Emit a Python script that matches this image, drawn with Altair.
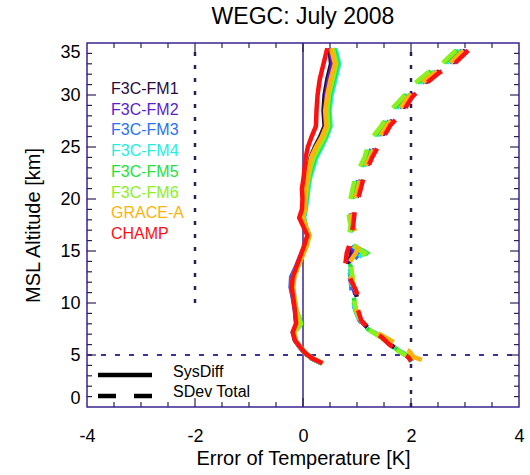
import altair as alt
import pandas as pd

FONT = "Liberation Sans"
FRAME = "#3b2390"
DOT = "#2e1e50"
TICK = "#2f1f55"

# Satellite names and their plot colours
names = ["F3C-FM1", "F3C-FM2", "F3C-FM3", "F3C-FM4", "F3C-FM5", "F3C-FM6", "GRACE-A", "CHAMP"]
colors = ["#2b0a3d", "#5a1ecf", "#2a72f2", "#22eedd", "#1de23a", "#8cf01e", "#ffb20a", "#ff1010"]

# Altitude levels [km] of the systematic-difference profiles (top to bottom)
alt_sys = [34.5, 33.0, 31.5, 30.0, 28.5, 27.0, 26.0, 25.0, 24.0, 23.0, 22.0, 21.0, 20.0, 19.0, 18.2,
           17.3, 16.5, 15.5, 14.5, 13.5, 12.5, 11.5, 10.5, 9.3, 8.0, 7.2, 6.4, 5.8, 5.2, 4.7, 4.2]

# Systematic difference [K]
fm1_sys = [0.49, 0.52, 0.45, 0.40, 0.38, 0.40, 0.32, 0.22, 0.14, 0.10, 0.07, 0.04, 0.03, 0.02, -0.02,
           0.04, 0.10, 0.05, -0.03, -0.11, -0.18, -0.20, -0.17, -0.14, -0.12, -0.18, -0.14, -0.06, 0.04, 0.16, 0.35]
fm2_sys = [0.50, 0.55, 0.48, 0.43, 0.44, 0.45, 0.37, 0.27, 0.18, 0.13, 0.09, 0.06, 0.05, 0.03, 0.00,
           0.05, 0.10, 0.04, -0.04, -0.12, -0.20, -0.22, -0.18, -0.14, -0.12, -0.18, -0.14, -0.06, 0.04, 0.16, 0.35]
fm3_sys = [0.55, 0.62, 0.55, 0.49, 0.46, 0.48, 0.41, 0.32, 0.22, 0.16, 0.11, 0.08, 0.06, 0.04, 0.01,
           0.05, 0.10, 0.04, -0.05, -0.13, -0.22, -0.23, -0.19, -0.15, -0.12, -0.19, -0.15, -0.07, 0.03, 0.15, 0.34]
fm4_sys = [0.60, 0.67, 0.60, 0.53, 0.49, 0.51, 0.44, 0.35, 0.25, 0.19, 0.13, 0.10, 0.08, 0.05, 0.02,
           0.06, 0.12, 0.06, -0.03, -0.11, -0.18, -0.20, -0.17, -0.13, -0.08, -0.17, -0.14, -0.06, 0.04, 0.16, 0.35]
fm5_sys = [0.57, 0.64, 0.57, 0.50, 0.47, 0.49, 0.42, 0.32, 0.22, 0.16, 0.11, 0.08, 0.06, 0.04, 0.01,
           0.05, 0.11, 0.06, -0.02, -0.10, -0.17, -0.19, -0.16, -0.12, -0.03, -0.16, -0.14, -0.06, 0.04, 0.16, 0.35]
fm6_sys = [0.55, 0.62, 0.55, 0.48, 0.45, 0.47, 0.40, 0.30, 0.20, 0.14, 0.10, 0.07, 0.05, 0.03, 0.00,
           0.04, 0.10, 0.05, -0.03, -0.10, -0.17, -0.19, -0.16, -0.12, -0.04, -0.16, -0.14, -0.06, 0.04, 0.16, 0.35]
grace_sys = [0.52, 0.59, 0.51, 0.45, 0.41, 0.43, 0.35, 0.24, 0.15, 0.11, 0.08, 0.05, 0.04, 0.03, 0.00,
             0.06, 0.12, 0.07, -0.01, -0.09, -0.16, -0.18, -0.16, -0.13, -0.11, -0.17, -0.13, -0.05, 0.05, 0.17, 0.37]
champ_sys = [0.45, 0.38, 0.31, 0.27, 0.25, 0.24, 0.16, 0.09, 0.05, 0.03, 0.01, -0.02, -0.01, -0.02, -0.07,
             0.01, 0.08, 0.02, -0.05, -0.12, -0.19, -0.21, -0.18, -0.15, -0.13, -0.19, -0.15, -0.06, 0.04, 0.16, 0.36]

# Altitude levels [km] of the total standard-deviation profiles (top to bottom)
alt_sd = [34.3, 33.0, 32.1, 31.0, 29.8, 28.3, 27.1, 25.5, 24.0, 22.2, 20.8, 18.9, 17.5, 15.8, 14.8,
          13.6, 12.4, 11.2, 10.2, 9.3, 8.3, 7.5, 6.7, 6.0, 5.4, 4.8, 4.4]

# Total standard deviation [K]
fm1_sd = [3.00, 2.75, 2.46, 2.20, 1.98, 1.78, 1.58, 1.38, 1.25, 1.08, 1.02, 0.92, 0.92, 0.88, 0.90,
          0.83, 0.87, 0.96, 1.02, 1.00, 1.07, 1.22, 1.47, 1.62, 1.77, 1.97, 2.01]
fm2_sd = [3.02, 2.77, 2.48, 2.22, 2.00, 1.80, 1.60, 1.40, 1.26, 1.10, 1.03, 0.93, 0.92, 0.86, 0.95,
          0.82, 0.87, 0.95, 1.00, 1.00, 1.07, 1.22, 1.46, 1.61, 1.76, 1.96, 2.01]
fm3_sd = [2.95, 2.70, 2.42, 2.16, 1.95, 1.70, 1.55, 1.32, 1.21, 1.04, 0.97, 0.88, 0.90, 0.85, 1.05,
          0.85, 0.88, 0.90, 0.92, 0.97, 1.05, 1.21, 1.46, 1.62, 1.77, 1.97, 2.02]
fm4_sd = [2.90, 2.65, 2.38, 2.12, 1.92, 1.66, 1.52, 1.29, 1.19, 1.02, 0.95, 0.87, 0.90, 0.86, 1.12,
          0.86, 0.89, 0.91, 0.93, 0.97, 1.05, 1.20, 1.45, 1.61, 1.77, 1.97, 2.02]
fm5_sd = [2.86, 2.60, 2.32, 2.07, 1.87, 1.61, 1.48, 1.25, 1.16, 0.99, 0.93, 0.85, 0.90, 0.85, 1.18,
          0.88, 0.91, 0.93, 0.95, 0.98, 1.06, 1.20, 1.45, 1.62, 1.78, 1.98, 2.02]
fm6_sd = [2.83, 2.57, 2.30, 2.04, 1.85, 1.58, 1.46, 1.22, 1.14, 0.97, 0.91, 0.83, 0.88, 0.84, 1.15,
          0.89, 0.92, 0.93, 0.95, 0.98, 1.06, 1.20, 1.44, 1.60, 1.76, 1.96, 2.01]
grace_sd = [2.97, 2.72, 2.43, 2.17, 1.95, 1.75, 1.56, 1.36, 1.24, 1.07, 1.01, 0.90, 0.92, 1.05, 0.98,
            0.82, 0.88, 0.98, 1.03, 1.00, 1.07, 1.25, 1.52, 1.77, 1.96, 2.05, 2.28]
champ_sd = [3.06, 2.80, 2.51, 2.25, 2.02, 1.84, 1.62, 1.44, 1.28, 1.13, 1.06, 0.96, 0.93, 0.87, 0.81,
            0.78, 0.87, 0.98, 1.05, 1.02, 1.08, 1.23, 1.46, 1.60, 1.75, 1.95, 2.00]

sys_profiles = [fm1_sys, fm2_sys, fm3_sys, fm4_sys, fm5_sys, fm6_sys, grace_sys, champ_sys]
sd_profiles = [fm1_sd, fm2_sd, fm3_sd, fm4_sd, fm5_sd, fm6_sd, grace_sd, champ_sd]

# Axis ticks and reference lines
x_labels = [-4, -2, 0, 2, 4]
y_labels = [0, 5, 10, 15, 20, 25, 30, 35]
x_major = [-2, 0, 2]
x_minor = [-3.5, -3, -2.5, -1.5, -1, -0.5, 0.5, 1, 1.5, 2.5, 3, 3.5]
y_major = [5, 10, 15, 20, 25, 30]
y_minor = [k for k in range(1, 35) if k % 5 != 0]
dotted_x = [-2, 2]
dotted_bottom = [10, 0]
dotted_top = [35, 35]
level_km = [5]

W, H = 432, 364
xs = alt.Scale(domain=[-4, 4], nice=False, zero=False)
ys = alt.Scale(domain=[0, 35], nice=False, zero=False)

# One shared axis definition per channel, given identically to every layer
x_axis = alt.Axis(
    values=x_labels, labelExpr="'' + datum.value", title="Error of Temperature [K]",
    ticks=False, tickSize=0, domain=False, grid=False, labelFlush=False,
    labelFont=FONT, labelFontSize=18, labelColor="black", labelPadding=20,
    titleFont=FONT, titleFontSize=20, titleFontWeight="normal", titleColor="black",
    titlePadding=3)
y_axis = alt.Axis(
    values=y_labels, labelExpr="'' + datum.value", title="MSL Altitude [km]",
    ticks=False, tickSize=0, domain=False, grid=False, labelFlush=True,
    labelFont=FONT, labelFontSize=18, labelColor="black", labelPadding=7,
    titleFont=FONT, titleFontSize=20, titleFontWeight="normal", titleColor="black",
    titlePadding=16)


def X(field):
    return alt.X(field, scale=xs, axis=x_axis)


def Y(field):
    return alt.Y(field, scale=ys, axis=y_axis)


# Zero line
zero = alt.Chart(pd.DataFrame({"x": [0], "lo": [0], "hi": [35]})).mark_rule(
    color=FRAME, strokeWidth=1.5
).encode(x=X("x:Q"), y=Y("lo:Q"), y2="hi:Q")

# Dotted vertical guides at +-2 K
dotted = alt.Chart(pd.DataFrame({"x": dotted_x, "lo": dotted_bottom, "hi": dotted_top})).mark_rule(
    color=DOT, strokeWidth=2.5, strokeDash=[4, 9]
).encode(x=X("x:Q"), y=Y("lo:Q"), y2="hi:Q")

# Dashed horizontal guide at 5 km
level = alt.Chart(pd.DataFrame({"y": level_km})).mark_rule(
    color="#40309a", strokeWidth=2, strokeDash=[5, 9]
).encode(y=Y("y:Q"), x=alt.value(0), x2=alt.value(W))


def xticks(vals, length):
    df = pd.DataFrame({"v": vals})
    bottom = alt.Chart(df).mark_rule(color=TICK, strokeWidth=1.2).encode(
        x=X("v:Q"), y=alt.value(H), y2=alt.value(H - length))
    top = alt.Chart(df).mark_rule(color=TICK, strokeWidth=1.2).encode(
        x=X("v:Q"), y=alt.value(0), y2=alt.value(length))
    return [bottom, top]


def yticks(vals, length):
    df = pd.DataFrame({"v": vals})
    left = alt.Chart(df).mark_rule(color=TICK, strokeWidth=1.2).encode(
        y=Y("v:Q"), x=alt.value(0), x2=alt.value(length))
    right = alt.Chart(df).mark_rule(color=TICK, strokeWidth=1.2).encode(
        y=Y("v:Q"), x=alt.value(W), x2=alt.value(W - length))
    return [left, right]


tick_layers = xticks(x_major, 9) + xticks(x_minor, 5) + yticks(y_major, 9) + yticks(y_minor, 5)

# Profiles: one solid and one dashed line per satellite, CHAMP drawn last
profile_layers = []
for name, color, sysv, sdv in zip(names, colors, sys_profiles, sd_profiles):
    df_sys = pd.DataFrame({"err": sysv, "km": alt_sys, "i": range(len(alt_sys))})
    df_sd = pd.DataFrame({"err": sdv, "km": alt_sd, "i": range(len(alt_sd))})
    profile_layers.append(
        alt.Chart(df_sys).mark_line(color=color, strokeWidth=4.5, strokeJoin="round").encode(
            x=X("err:Q"), y=Y("km:Q"), order="i:Q"))
    profile_layers.append(
        alt.Chart(df_sd).mark_line(color=color, strokeWidth=4.5, strokeDash=[18, 16]).encode(
            x=X("err:Q"), y=Y("km:Q"), order="i:Q"))

# Satellite name labels
label_layers = []
for k, (name, color) in enumerate(zip(names, colors)):
    label_layers.append(
        alt.Chart(pd.DataFrame({"name": [name]})).mark_text(
            align="left", baseline="middle", font=FONT, fontSize=16, color=color
        ).encode(x=alt.value(24), y=alt.value(46 + 20.7 * k), text="name:N"))

# Line-style key
key_labels = ["SysDiff", "SDev Total"]
key_dash = [[1, 0], [18, 18]]
key_layers = []
for k, (lab, dash) in enumerate(zip(key_labels, key_dash)):
    df = pd.DataFrame({"label": [lab]})
    key_layers.append(
        alt.Chart(df).mark_rule(color="black", strokeWidth=4.5, strokeDash=dash).encode(
            x=alt.value(11), x2=alt.value(65), y=alt.value(332 + 21 * k)))
    key_layers.append(
        alt.Chart(df).mark_text(align="left", baseline="middle", font=FONT, fontSize=16,
                                color="black").encode(
            x=alt.value(86), y=alt.value(329 + 20 * k), text="label:N"))

chart = alt.layer(
    zero, dotted, level, *tick_layers, *profile_layers, *label_layers, *key_layers
).properties(
    width=W, height=H,
    title=alt.TitleParams("WEGC: July 2008", font=FONT, fontSize=23, fontWeight="normal",
                          color="black", anchor="middle", offset=12),
    padding={"left": 87, "top": 43, "right": 11, "bottom": 68},
    autosize=alt.AutoSizeParams(type="none"),
    background="white",
).configure_view(stroke=FRAME, strokeWidth=1.5)

chart.save("out.html", embed_options={"renderer": "svg", "actions": False})
